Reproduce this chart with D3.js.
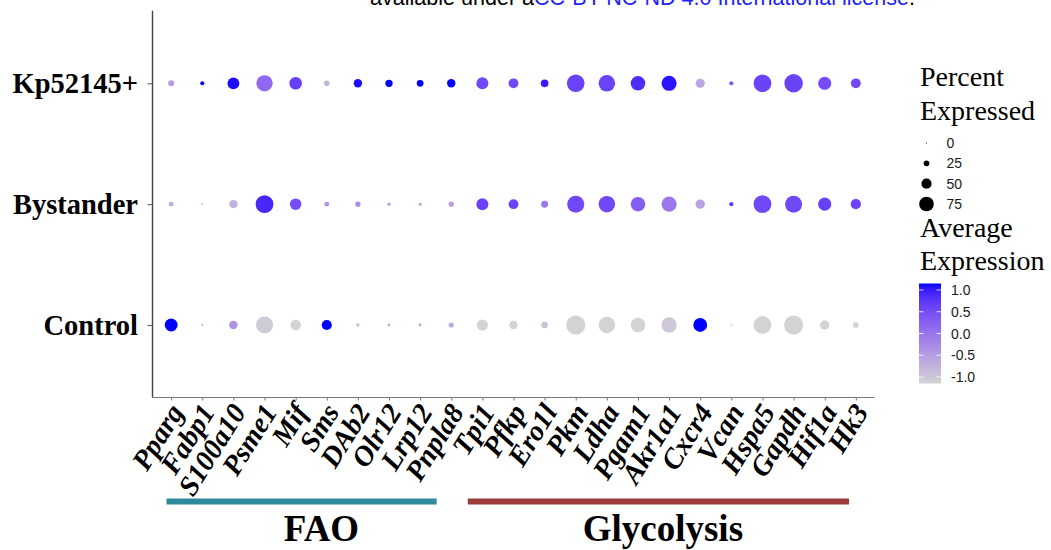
<!DOCTYPE html>
<html><head><meta charset="utf-8">
<script src="https://cdn.jsdelivr.net/npm/d3@7"></script>
<style>body{margin:0;background:#fff}svg{display:block}</style>
</head><body>
<svg id="c" width="1051" height="550"></svg>
<script>
const genes = ["Pparg","Fabp1","S100a10","Psme1","Mif","Sms","DAb2","Olr12","Lrp12","Pnpla8","Tpi1","Pfkp","Ero1l","Pkm","Ldha","Pgam1","Akr1a1","Cxcr4","Vcan","Hspa5","Gapdh","Hif1a","Hk3"];
const groups = ["Kp52145+","Bystander","Control"];
const pctKp   = [27,16,59,84,63,25,40,34,31,40,60,48,36,91,85,74,77,44,16,92,96,66,48];
const pctBy   = [20, 2,40,92,57,20,22,12,10,22,60,48,32,88,85,74,77,45,16,92,88,66,50];
const pctCtrl = [65, 5,40,88,52,50,12, 9, 9,22,55,40,30,100,85,74,78,70, 3,92,100,45,25];
const avgKp   = [-0.45,1.15,1.10,0.15,0.65,-0.80,1.10,1.15,1.15,1.15,0.55,0.55,1.00,0.60,0.60,0.85,1.05,-0.60,0.40,0.60,0.60,0.50,0.55];
const avgBy   = [-0.70,-0.55,-0.75,0.90,0.50,-0.35,-0.30,-0.50,-0.55,-0.50,0.60,0.60,-0.05,0.55,0.55,0.30,-0.05,-0.55,0.75,0.55,0.55,0.65,0.60];
const avgCtrl = [1.15,-0.60,-0.35,-1.05,-1.15,1.15,-0.80,-0.65,-0.60,-0.65,-1.15,-1.15,-0.95,-1.15,-1.15,-1.15,-1.00,1.15,-1.15,-1.15,-1.15,-1.15,-1.15];
const sizeBreaks = [0,25,50,75];
const colorBreaks = [1.0,0.5,0.0,-0.5,-1.0];
const pathwayNames = ["FAO","Glycolysis"];
const pathwaySpan = [[-0.15,8.53],[9.53,21.78]];
const pathwayLabelAt = [4.83,15.8];
const pathwayColors = ["#2f8a9d","#9c3b3b"];
const topNote = [["available under a","#000"],["CC-BY-NC-ND 4.0 International license","#1f1ff5"],[".","#000"]];

const pctBy_group = [pctKp,pctBy,pctCtrl];
const avgBy_group = [avgKp,avgBy,avgCtrl];
const data = [];
groups.forEach((g,gi)=>genes.forEach((gene,i)=>data.push({group:g,gene,pct:pctBy_group[gi][i],avg:avgBy_group[gi][i]})));

const svg = d3.select("#c");
const serif = "'Liberation Serif','Times New Roman',serif";
const sans = "'Liberation Sans',Arial,Helvetica,sans-serif";

// top note (cut off at the top edge, as in the source page)
const note = svg.append("text").attr("x",370).attr("y",5).attr("font-family",sans).attr("font-size",21.5)
  .attr("textLength",545).attr("lengthAdjust","spacingAndGlyphs");
topNote.forEach(([t,c])=>note.append("tspan").attr("fill",c).text(t));

const panel = {left:152.5,right:874.5,top:10.8,bottom:397.5};
const x = d3.scalePoint().domain(genes).range([panel.left,panel.right]).padding(0.6);
const y = d3.scalePoint().domain(groups).range([panel.top,panel.bottom]).padding(0.6);
const idx = d3.scaleLinear().domain([0,genes.length-1]).range([x(genes[0]),x(genes[genes.length-1])]);
const r = d3.scaleLinear().domain([0,100]).range([0.6,9.6]);
const ext = d3.extent(data,d=>d.avg);
const col = d3.scaleLinear().domain(ext).range(["lightgrey","blue"]).interpolate(d3.interpolateLab);

// dots
svg.append("g").selectAll("circle").data(data).join("circle")
  .attr("cx",d=>x(d.gene)).attr("cy",d=>y(d.group)).attr("r",d=>r(d.pct)).attr("fill",d=>col(d.avg));

// axes
const yAx = svg.append("g").attr("transform",`translate(${panel.left},0)`)
  .call(d3.axisLeft(y).tickSize(5).tickPadding(9.5).tickSizeOuter(0));
yAx.select(".domain").attr("d",`M0,${panel.top}V${panel.bottom}`).attr("stroke","#444").attr("stroke-width",1.4);
yAx.selectAll(".tick line").attr("stroke","#555");
yAx.selectAll(".tick text").attr("font-family",serif).attr("font-weight","bold").attr("font-size",28.5).attr("fill","#000");

const xAx = svg.append("g").attr("transform",`translate(0,${panel.bottom})`)
  .call(d3.axisBottom(x).tickSize(3).tickSizeOuter(0));
xAx.select(".domain").attr("d",`M${panel.left},0H${panel.right}`).attr("stroke","#777").attr("stroke-width",1.2);
xAx.selectAll(".tick line").attr("stroke","#777");
xAx.selectAll(".tick text").remove();
svg.append("g").selectAll("text").data(genes).join("text")
  .attr("transform",d=>`translate(${x(d)+5},${panel.bottom+9}) rotate(-58)`)
  .attr("text-anchor","end").attr("font-family",serif).attr("font-weight","bold").attr("font-style","italic")
  .attr("font-size",28.5).attr("fill","#000").attr("dy","0.35em").text(d=>d);

// pathway bars
pathwayNames.forEach((n,i)=>{
  svg.append("rect").attr("x",idx(pathwaySpan[i][0])).attr("y",498.5).attr("width",idx(pathwaySpan[i][1])-idx(pathwaySpan[i][0])).attr("height",6).attr("fill",pathwayColors[i]);
  svg.append("text").attr("x",idx(pathwayLabelAt[i])).attr("y",541).attr("text-anchor","middle")
    .attr("font-family",serif).attr("font-weight","bold").attr("font-size",37).attr("fill","#000").text(n);
});

// legend: size
const lg = svg.append("g");
const legTitle = (t,yy)=>lg.append("text").attr("x",920).attr("y",yy).attr("font-family",serif).attr("font-size",28).text(t);
legTitle("Percent",86); legTitle("Expressed",120);
const sy = d3.scalePoint().domain(sizeBreaks).range([143,204]);
sizeBreaks.forEach(b=>{
  lg.append("circle").attr("cx",926.5).attr("cy",sy(b)).attr("r",r(b)).attr("fill","#000");
  lg.append("text").attr("x",946.5).attr("y",sy(b)).attr("dy","0.36em").attr("font-family",sans).attr("font-size",14).attr("fill","#1a1a1a").text(b);
});
// legend: colour
legTitle("Average",237); legTitle("Expression",270);
const cy = d3.scaleLinear().domain([ext[1],ext[0]]).range([283.5,383.5]);
const defs = svg.append("defs");
const grad = defs.append("linearGradient").attr("id","cg").attr("x1",0).attr("y1",1).attr("x2",0).attr("y2",0);
d3.range(0,1.0001,0.05).forEach(t=>grad.append("stop").attr("offset",t).attr("stop-color",col(ext[0]+t*(ext[1]-ext[0]))));
lg.append("rect").attr("x",919).attr("y",cy(ext[1])).attr("width",22).attr("height",cy(ext[0])-cy(ext[1])).attr("fill","url(#cg)");
colorBreaks.forEach(b=>{
  lg.append("line").attr("x1",919).attr("x2",923.5).attr("y1",cy(b)).attr("y2",cy(b)).attr("stroke","#fff").attr("stroke-width",0.8);
  lg.append("line").attr("x1",936.5).attr("x2",941).attr("y1",cy(b)).attr("y2",cy(b)).attr("stroke","#fff").attr("stroke-width",0.8);
  lg.append("text").attr("x",951).attr("y",cy(b)).attr("dy","0.36em").attr("font-family",sans).attr("font-size",14).attr("fill","#1a1a1a").text(d3.format(".1f")(b).replace("\u2212","-"));
});
</script>
</body></html>
